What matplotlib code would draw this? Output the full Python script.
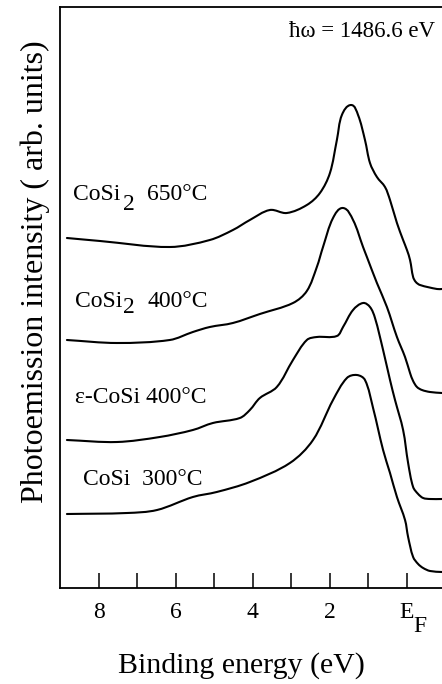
import matplotlib
matplotlib.use("Agg")
import numpy as np
import matplotlib.pyplot as plt
from matplotlib.path import Path
from matplotlib.patches import PathPatch
from matplotlib.transforms import blended_transform_factory

plt.rcParams['font.family'] = ['Liberation Serif', 'DejaVu Serif']
plt.rcParams['mathtext.fontset'] = 'custom'
plt.rcParams['mathtext.rm'] = 'Liberation Serif'

# Valence-band spectra (binding energy in eV, intensity in arb. units, stacked)
be_cosi2_650 = [8.83, 7.97, 6.16, 5.12, 4.52, 4.08, 3.56, 3.12, 2.60, 2.26, 2.00,
                1.82, 1.69, 1.45, 1.27, 1.09, 0.96, 0.78, 0.57, 0.44,
                0.26, 0.10, 0.00, -0.08, -0.16, -0.23, -0.34, -0.78, -0.91]
int_cosi2_650 = [3.50, 3.47, 3.41, 3.48, 3.58, 3.68, 3.78, 3.75, 3.83, 3.95, 4.15,
                 4.48, 4.73, 4.83, 4.73, 4.48, 4.25, 4.11, 4.01, 3.88,
                 3.65, 3.48, 3.38, 3.28, 3.11, 3.06, 3.03, 2.99, 2.99]

be_cosi2_400 = [8.83, 7.53, 6.16, 5.56, 5.12, 4.52, 3.82, 2.96, 2.60, 2.34, 2.18,
                1.92, 1.66, 1.40, 1.14, 1.04, 0.78, 0.52, 0.26, 0.05,
                -0.08, -0.16, -0.26, -0.39, -0.60, -0.91]
int_cosi2_400 = [2.48, 2.45, 2.48, 2.56, 2.61, 2.65, 2.74, 2.85, 2.97, 3.21, 3.41,
                 3.70, 3.80, 3.68, 3.41, 3.31, 3.05, 2.81, 2.51, 2.31,
                 2.15, 2.07, 2.01, 1.98, 1.96, 1.95]

be_ecosi_400 = [8.83, 7.53, 6.42, 5.56, 5.04, 4.34, 4.08, 3.82, 3.38, 2.96, 2.60,
                2.34, 1.82, 1.66, 1.40, 1.14, 0.96, 0.83, 0.62, 0.44,
                0.31, 0.10, -0.03, -0.16, -0.29, -0.42, -0.60, -0.91]
int_ecosi_400 = [1.48, 1.46, 1.51, 1.58, 1.65, 1.70, 1.78, 1.90, 2.01, 2.28, 2.48,
                 2.51, 2.52, 2.61, 2.78, 2.85, 2.81, 2.70, 2.38, 2.08,
                 1.88, 1.58, 1.25, 1.01, 0.94, 0.90, 0.89, 0.89]

be_cosi_300 = [8.83, 7.27, 6.49, 5.56, 4.94, 4.08, 3.04, 2.44, 1.92, 1.56,
               1.30, 1.09, 0.88, 0.62, 0.44, 0.26, 0.05, -0.03, -0.16, -0.29,
               -0.42, -0.60, -0.91]
int_cosi_300 = [0.74, 0.75, 0.78, 0.91, 0.96, 1.06, 1.25, 1.48, 1.88, 2.10,
                2.13, 2.08, 1.80, 1.38, 1.15, 0.91, 0.68, 0.51, 0.31, 0.24,
                0.20, 0.17, 0.16]

major_ticks = [8, 6, 4, 2, 0]
major_labels = ['8', '6', '4', '2', 'E']
minor_ticks = [7, 5, 3, 1]


def smooth_path(ax, x, y):
    """Cubic Bezier path through every point, tangents built in display space."""
    p = ax.transData.transform(np.column_stack([x, y]).astype(float))
    n = len(p)
    tang = np.zeros_like(p)
    for i in range(n):
        a = p[max(i - 1, 0)]
        b = p[min(i + 1, n - 1)]
        d = b - a
        tang[i] = d / np.hypot(*d)
    verts = [p[0]]
    codes = [Path.MOVETO]
    for i in range(n - 1):
        seg = np.hypot(*(p[i + 1] - p[i])) / 3.0
        verts += [p[i] + tang[i] * seg, p[i + 1] - tang[i + 1] * seg, p[i + 1]]
        codes += [Path.CURVE4] * 3
    verts = ax.transData.inverted().transform(np.array(verts))
    return Path(verts, codes)


fig = plt.figure(figsize=(4.42, 6.84), dpi=100)
ax = fig.add_axes([60 / 442, 1 - 588 / 684, 382 / 442, 581 / 684])
ax.set_xlim(9.01, -0.91)
ax.set_ylim(0, 5.81)

for be, inten in [(be_cosi2_650, int_cosi2_650), (be_cosi2_400, int_cosi2_400),
                  (be_ecosi_400, int_ecosi_400), (be_cosi_300, int_cosi_300)]:
    ax.add_patch(PathPatch(smooth_path(ax, be, inten), facecolor='none',
                           edgecolor='black', lw=1.5, joinstyle='round',
                           capstyle='round'))

ax.set_xticks(major_ticks)
ax.set_xticklabels(major_labels)
ax.set_xticks(minor_ticks, minor=True)
ax.tick_params(axis='x', which='both', direction='in', length=10.8, width=1.1,
               labelsize=17, pad=10)
ax.set_yticks([])
ax.spines['right'].set_visible(False)
for s in ['left', 'top', 'bottom']:
    ax.spines[s].set_linewidth(1.3)

# subscript F of the Fermi level tick label
xa = blended_transform_factory(ax.transData, ax.transAxes)
ax.text(-0.17, -0.0757, 'F', transform=xa, fontsize=17, ha='left', va='baseline')

# curve labels
lab = dict(fontsize=17, ha='left', va='baseline')
ax.text(8.68, 3.88, 'CoSi', **lab)
ax.text(7.38, 3.78, '2', **lab)
ax.text(6.75, 3.88, '650°C', **lab)
ax.text(8.62, 2.81, 'CoSi', **lab)
ax.text(7.38, 2.75, '2', **lab)
ax.text(6.73, 2.81, '400°C', **lab)
ax.text(8.62, 1.85, 'ε-CoSi 400°C', **lab)
ax.text(8.42, 1.03, 'CoSi  300°C', **lab)
ax.text(-0.73, 5.51, 'ħω = 1486.6 eV', fontsize=16.5, ha='right', va='baseline')

ax.set_xlabel('Binding energy (eV)', fontsize=21.5, va='baseline')
ax.xaxis.set_label_coords(0.474, -0.146)
ax.set_ylabel('Photoemission intensity ( arb. units)', fontsize=23, va='baseline')
ax.yaxis.set_label_coords(-0.045, 0.544)

fig.savefig('out.png', dpi=100)
